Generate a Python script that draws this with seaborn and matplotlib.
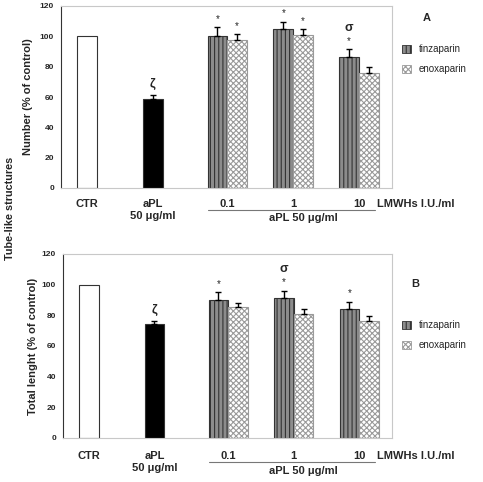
import numpy as np
import pandas as pd
import seaborn as sns
import matplotlib.pyplot as plt
from matplotlib.patches import Patch
from matplotlib.transforms import blended_transform_factory

ctrl_labels = ['CTR', 'aPL\n50 \u03bcg/ml']
doses = ['0.1', '1', '10']
drugs = ['tinzaparin', 'enoxaparin']

# panel A - number of tube-like structures (% of control)
num_ctrl = [100, 58.6]
num_ctrl_err = [0, 2.4]
num_tinz = [100.3, 104.8, 86.3]
num_tinz_err = [5.8, 4.8, 5.3]
num_enox = [97.3, 101.0, 75.5]
num_enox_err = [4.2, 3.8, 4.2]

# panel B - total length of tube-like structures (% of control)
len_ctrl = [100, 74.4]
len_ctrl_err = [0, 1.7]
len_tinz = [90.3, 91.1, 84.2]
len_tinz_err = [4.7, 5.0, 4.8]
len_enox = [85.3, 80.9, 76.6]
len_enox_err = [3.0, 3.5, 3.2]

# significance marks: (dose index, drug index)
num_stars = [(0, 0), (0, 1), (1, 0), (1, 1), (2, 0)]
num_sigma = [2]
len_stars = [(0, 0), (1, 0), (2, 0)]
len_sigma = [1]

sns.set_style('white')
plt.rcParams['font.family'] = ['Liberation Sans', 'DejaVu Sans']
plt.rcParams['hatch.linewidth'] = 0.8

ctrl_pos = np.array([0.0, 1.0])
group_pos = np.array([2.13, 3.13, 4.13])
bar_w = 0.3

tinz_face, tinz_edge, tinz_hatch = '#8c8c8c', '#333333', '||||'
enox_face, enox_edge, enox_hatch = 'white', '#9a9a9a', 'xxxxxx'

fig = plt.figure(figsize=(4.83, 4.82), dpi=100)
W, H = 483, 482


def add_ax(l, t, r, b):
    return fig.add_axes([l / W, 1 - b / H, (r - l) / W, (b - t) / H])


def draw_panel(ax, ax_h, ctrl, ctrl_err, tinz, tinz_err, enox, enox_err,
               stars, sigma, ylabel, ylab_x, letter, off):
    ctrl_df = pd.DataFrame({'x': ctrl_pos, 'y': ctrl, 'g': ['ctr', 'apl']})
    sns.barplot(data=ctrl_df, x='x', y='y', hue='g', palette=['white', 'black'],
                native_scale=True, width=bar_w, edgecolor='#333333', linewidth=0.8,
                errorbar=None, legend=False, ax=ax)
    grp_df = pd.DataFrame({'x': np.concatenate([group_pos, group_pos]),
                           'y': tinz + enox,
                           'drug': [drugs[0]] * 3 + [drugs[1]] * 3})
    sns.barplot(data=grp_df, x='x', y='y', hue='drug', hue_order=drugs,
                palette=[tinz_face, enox_face], native_scale=True, width=2 * bar_w,
                linewidth=0.8, errorbar=None, legend=False, ax=ax)
    for bar in ax.containers[-2]:
        bar.set_hatch(tinz_hatch)
        bar.set_edgecolor(tinz_edge)
    for bar in ax.containers[-1]:
        bar.set_hatch(enox_hatch)
        bar.set_edgecolor(enox_edge)

    # error bars (upper side only)
    xs = np.concatenate([ctrl_pos, group_pos - bar_w / 2, group_pos + bar_w / 2])
    ys = np.array(ctrl + tinz + enox)
    es = np.array(ctrl_err + tinz_err + enox_err)
    keep = es > 0
    ax.errorbar(xs[keep], ys[keep], yerr=[np.zeros(keep.sum()), es[keep]],
                fmt='none', ecolor='black', elinewidth=1, capsize=2.2, capthick=1)

    tinz_top = np.array(tinz) + np.array(tinz_err)
    enox_top = np.array(enox) + np.array(enox_err)
    for d, k in stars:
        top = tinz_top[d] if k == 0 else enox_top[d]
        x = group_pos[d] + (-1 if k == 0 else 1) * bar_w / 2
        ax.annotate('*', (x, top), xytext=(0, 2.5), textcoords='offset points',
                    ha='center', va='bottom', fontsize=7, annotation_clip=False)
    for d in sigma:
        ax.annotate('\u03c3', (group_pos[d] - bar_w / 2, tinz_top[d]), xytext=(0, 11),
                    textcoords='offset points', ha='center', va='bottom',
                    fontsize=9, fontweight='bold', annotation_clip=False)
    ax.annotate('\u03b6', (ctrl_pos[1], ctrl[1] + ctrl_err[1]), xytext=(0, 4),
                textcoords='offset points', ha='center', va='bottom',
                fontsize=9, fontweight='bold')

    ax.set_xlim(-0.395, 4.63)
    ax.set_ylim(0, 120)
    ax.set_yticks(range(0, 121, 20))
    ax.tick_params(axis='y', length=3, width=0.8, color='#333333', labelsize=6, pad=2)
    for t in ax.get_yticklabels():
        t.set_fontweight('bold')
    ax.set_xticks(list(ctrl_pos) + list(group_pos))
    ax.set_xticklabels(ctrl_labels + doses, fontsize=8, fontweight='bold')
    ax.tick_params(axis='x', length=0, pad=off[0] * 0.72)
    ax.set_xlabel('')
    ax.set_ylabel(ylabel, fontsize=8, fontweight='bold', va='center')
    ax.yaxis.set_label_coords(ylab_x, 0.5)
    for s in ['top', 'right', 'bottom']:
        ax.spines[s].set_color('#c8c8c8')
        ax.spines[s].set_linewidth(0.8)
    ax.spines['left'].set_color('#333333')
    ax.spines['left'].set_linewidth(0.8)

    tr = blended_transform_factory(ax.transData, ax.transAxes)
    ax.text(4.40, -off[0] / ax_h, 'LMWHs I.U./ml', transform=tr, ha='left', va='top',
            fontsize=8, fontweight='bold')
    ax.plot([1.84, 4.37], [-off[1] / ax_h] * 2, transform=tr, color='#777777',
            lw=0.8, clip_on=False)
    ax.text(3.28, -off[2] / ax_h, 'aPL 50 \u03bcg/ml', transform=tr, ha='center',
            va='center', fontsize=8, fontweight='bold')

    ax.text(letter[0], letter[1], letter[2], transform=ax.transAxes, ha='center',
            va='center', fontsize=8, fontweight='bold', clip_on=False)
    handles = [Patch(facecolor=tinz_face, edgecolor=tinz_edge, hatch=tinz_hatch, lw=0.6),
               Patch(facecolor=enox_face, edgecolor=enox_edge, hatch=enox_hatch, lw=0.6)]
    ax.legend(handles, drugs, loc='upper left', bbox_to_anchor=letter[3],
              frameon=False, fontsize=7, handlelength=0.9, handleheight=0.9,
              handletextpad=0.8, labelspacing=1.0, borderpad=0, borderaxespad=0)


ax_a = add_ax(61, 6, 392, 188)
draw_panel(ax_a, 182, num_ctrl, num_ctrl_err, num_tinz, num_tinz_err,
           num_enox, num_enox_err, num_stars, num_sigma,
           'Number (% of control)', -0.1,
           (1.105, 0.935, 'A', (1.03, 0.79)), (11, 22, 30))

ax_b = add_ax(63, 254, 392, 438)
draw_panel(ax_b, 184, len_ctrl, len_ctrl_err, len_tinz, len_tinz_err,
           len_enox, len_enox_err, len_stars, len_sigma,
           'Total lenght (% of control)', -0.091,
           (1.07, 0.835, 'B', (1.03, 0.64)), (13, 24, 33))

fig.text(10 / W, 1 - 208 / H, 'Tube-like structures', rotation=90, ha='center',
         va='center', fontsize=7.8, fontweight='bold')

fig.savefig('out.png', dpi=100)
